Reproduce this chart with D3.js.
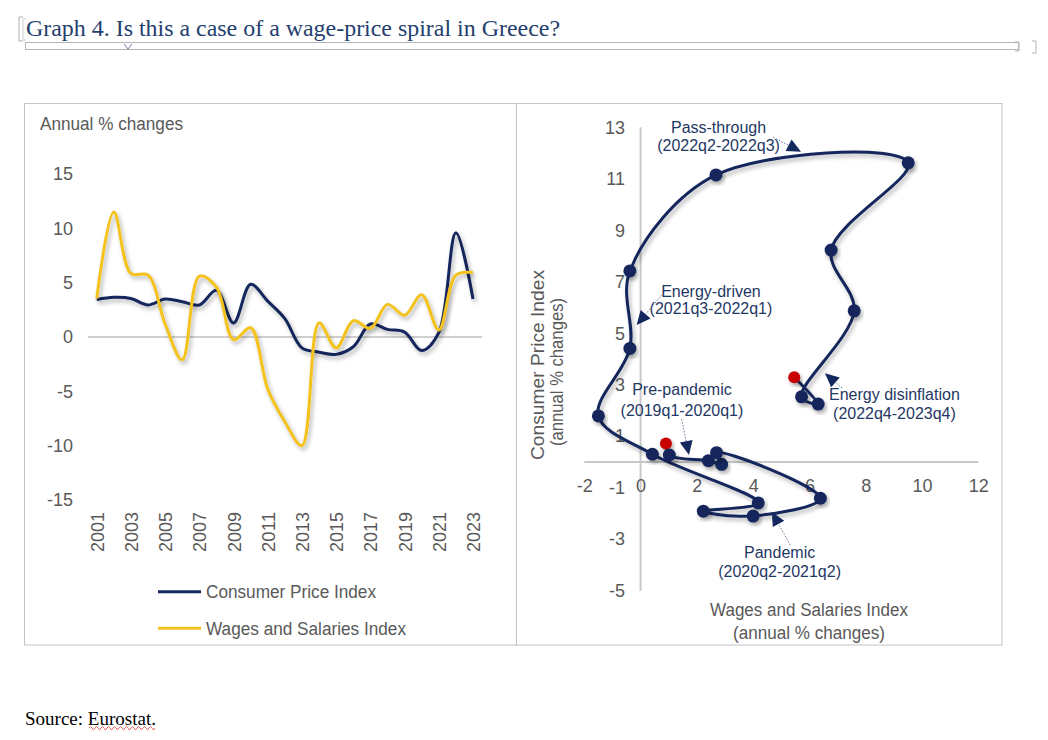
<!DOCTYPE html>
<html>
<head>
<meta charset="utf-8">
<script src="https://cdn.jsdelivr.net/npm/d3@7"></script>
<style>
  html, body { margin: 0; padding: 0; background: #ffffff; }
  svg { display: block; font-family: "Liberation Sans", Arial, sans-serif; }
</style>
</head>
<body>
<script>
// ---------------- DATA ----------------
const years = [2001, 2002, 2003, 2004, 2005, 2006, 2007, 2008, 2009, 2010, 2011, 2012,
               2013, 2014, 2015, 2016, 2017, 2018, 2019, 2020, 2021, 2022, 2023];
const cpiAnnual = [3.45, 3.65, 3.55, 2.95, 3.5, 3.25, 2.95, 4.3, 1.3, 4.85, 3.3, 1.7,
                   -1.0, -1.4, -1.6, -0.9, 1.2, 0.7, 0.45, -1.25, 0.4, 9.6, 3.5];
const wagesAnnual = [3.55, 11.5, 5.85, 5.7, 1.2, -2.1, 5.6, 4.6, -0.25, 0.85, -4.8, -7.8,
                     -10.0, 1.3, -1.0, 1.5, 0.8, 3.0, 2.0, 3.9, 0.65, 5.7, 5.95];
const yearTicks = [2001, 2003, 2005, 2007, 2009, 2011, 2013, 2015, 2017, 2019, 2021, 2023];
const leftYTicks = [-15, -10, -5, 0, 5, 10, 15];

const quarters = ["2019q1","2019q2","2019q3","2019q4","2020q1","2020q2","2020q3","2020q4",
                  "2021q1","2021q2","2021q3","2021q4","2022q1","2022q2","2022q3","2022q4",
                  "2023q1","2023q2","2023q3","2023q4"];
const wagesQ = [0.90, 1.02, 2.41, 2.88, 2.70, 6.39, 4.00, 2.23, 4.18, 0.42,
                -1.50, -0.38, -0.38, 2.68, 9.51, 6.77, 7.59, 5.72, 6.31, 5.46];
const cpiQ   = [0.72, 0.27, 0.05, -0.09, 0.36, -1.41, -2.10, -1.91, -1.59, 0.30,
                1.79, 4.41, 7.42, 11.15, 11.62, 8.23, 5.87, 2.53, 2.25, 3.29];
const rightXTicks = [-2, 0, 2, 4, 6, 8, 10, 12];
const rightYTicks = [13, 11, 9, 7, 5, 3, 1, -1, -3, -5];

const seriesNames = ["Consumer Price Index", "Wages and Salaries Index"];

// annotation labels (in data units of the right chart)
const annotations = [
  { lines: ["Pass-through", "(2022q2-2022q3)"], x: 2.77, y: [12.78, 12.08], from: [4.72, 12.61], to: [5.70, 12.05] },
  { lines: ["Energy-driven", "(2021q3-2022q1)"], x: 2.50, y: [6.41, 5.75], from: [0.75, 6.48], to: [-0.14, 5.32] },
  { lines: ["Pre-pandemic", "(2019q1-2020q1)"], x: 1.47, y: [2.60, 1.78], from: [1.46, 1.66], to: [1.72, 0.27] },
  { lines: ["Energy disinflation", "(2022q4-2023q4)"], x: 9.02, y: [2.41, 1.67], from: [7.16, 2.87], to: [6.55, 3.45] },
  { lines: ["Pandemic", "(2020q2-2021q2)"], x: 4.94, y: [-3.73, -4.47], from: [5.32, -3.23], to: [4.66, -1.93] }
];

// ---------------- STYLE ----------------
const NAVY = "#13285c";
const YELLOW = "#f4c21f";
const GREY_TXT = "#595959";
const AXIS_GREY = "#c8c8c8";
const RED = "#c80000";
const ANN = "#1f3864";
const SANS = "'Liberation Sans', Arial, sans-serif";
const SERIF = "'Liberation Serif', 'Times New Roman', serif";
const plain = d => String(d);

const svg = d3.select("body").append("svg").attr("width", 1048).attr("height", 740);
const defs = svg.append("defs");
const f = defs.append("filter").attr("id", "shadow")
  .attr("x", "-10%").attr("y", "-10%").attr("width", "130%").attr("height", "140%");
f.append("feDropShadow").attr("dx", 2).attr("dy", 3).attr("stdDeviation", 2)
  .attr("flood-color", "#000").attr("flood-opacity", 0.3);

// ---------------- TITLE & PAGE ARTIFACTS ----------------
const page = svg.append("g");
page.append("path").attr("d", "M23,17 H19 V41 H23").attr("fill", "none").attr("stroke", "#b0b0b0").attr("stroke-width", 1);
page.append("path").attr("d", "M26,19 H23 V40 H26").attr("fill", "none").attr("stroke", "#d0d0d0").attr("stroke-width", 1);
page.append("rect").attr("x", 25.5).attr("y", 42.5).attr("width", 993).attr("height", 7)
  .attr("fill", "none").attr("stroke", "#b4b4b4").attr("stroke-width", 1);
page.append("path").attr("d", "M124,44 L128,49 L132,44").attr("fill", "none").attr("stroke", "#6b7fa6").attr("stroke-width", 1);
page.append("path").attr("d", "M1015,42 H1019 V51 H1015").attr("fill", "none").attr("stroke", "#b4b4b4");
page.append("path").attr("d", "M1032,41 H1036 V53 H1032").attr("fill", "none").attr("stroke", "#b4b4b4");

page.append("text").attr("x", 26).attr("y", 36)
  .style("font-family", SERIF)
  .attr("font-size", 24).attr("fill", "#23406e")
  .attr("textLength", 534).attr("lengthAdjust", "spacingAndGlyphs")
  .text("Graph 4. Is this a case of a wage-price spiral in Greece?");

page.append("text").attr("x", 25).attr("y", 725)
  .style("font-family", SERIF)
  .attr("font-size", 19).attr("fill", "#000")
  .attr("textLength", 131).attr("lengthAdjust", "spacingAndGlyphs")
  .text("Source: Eurostat.");
// spell-check squiggle under "Eurostat"
(function () {
  let d = "M89,728";
  for (let x = 89; x < 155; x += 3) d += ` L${x + 1.5},${(x / 3) % 2 < 1 ? 730 : 726.5} L${x + 3},728`;
  page.append("path").attr("d", d).attr("fill", "none").attr("stroke", "#e04040").attr("stroke-width", 0.8);
})();

// panel frames
svg.append("rect").attr("x", 24.5).attr("y", 103.5).attr("width", 492).attr("height", 541.5)
  .attr("fill", "none").attr("stroke", "#c4c4c4").attr("stroke-width", 1);
svg.append("rect").attr("x", 516.5).attr("y", 103.5).attr("width", 485.5).attr("height", 541.5)
  .attr("fill", "none").attr("stroke", "#c4c4c4").attr("stroke-width", 1);

// ---------------- LEFT CHART ----------------
const xL = d3.scaleLinear().domain([2001, 2023]).range([96.7, 473]);
const yL = d3.scaleLinear().domain([-15, 15]).range([499.9, 174.1]);
const L = svg.append("g");

L.append("text").attr("x", 40).attr("y", 130).attr("font-size", 18).attr("fill", GREY_TXT)
  .attr("textLength", 143).attr("lengthAdjust", "spacingAndGlyphs")
  .text("Annual  % changes");

// zero line
L.append("line").attr("x1", 88).attr("x2", 482).attr("y1", yL(0)).attr("y2", yL(0))
  .attr("stroke", "#d0d0d0").attr("stroke-width", 2);

const yAxisL = L.append("g").attr("transform", "translate(73,0)")
  .call(d3.axisLeft(yL).tickValues(leftYTicks).tickFormat(plain).tickSize(0).tickPadding(0));
yAxisL.select(".domain").remove();
yAxisL.attr("font-family", SANS);
yAxisL.selectAll("text").attr("font-size", 18).attr("fill", GREY_TXT);

const xAxisL = L.append("g").attr("transform", "translate(0,512)")
  .call(d3.axisBottom(xL).tickValues(yearTicks).tickFormat(plain).tickSize(0).tickPadding(0));
xAxisL.select(".domain").remove();
xAxisL.attr("font-family", SANS);
xAxisL.selectAll("text")
  .attr("transform", "rotate(-90)").attr("text-anchor", "end")
  .attr("x", 0).attr("y", 0).attr("dy", "0.36em")
  .attr("font-size", 18).attr("fill", GREY_TXT)
  .attr("textLength", 40).attr("lengthAdjust", "spacingAndGlyphs");

const curve = d3.curveCatmullRom.alpha(0.5);
const lineL = d3.line().x(d => xL(d[0])).y(d => yL(d[1])).curve(curve);
const cpiPts = years.map((y, i) => [y, cpiAnnual[i]]);
const wagePts = years.map((y, i) => [y, wagesAnnual[i]]);

L.append("path").attr("d", lineL(cpiPts)).attr("fill", "none").attr("stroke", NAVY)
  .attr("stroke-width", 3).attr("filter", "url(#shadow)").attr("stroke-linejoin", "round");
L.append("path").attr("d", lineL(wagePts)).attr("fill", "none").attr("stroke", YELLOW)
  .attr("stroke-width", 3).attr("filter", "url(#shadow)").attr("stroke-linejoin", "round");

// legend
const legend = L.append("g");
[NAVY, YELLOW].forEach((c, i) => {
  const yy = 591.7 + i * 36.6;
  legend.append("line").attr("x1", 158).attr("x2", 201).attr("y1", yy).attr("y2", yy)
    .attr("stroke", c).attr("stroke-width", 3);
  legend.append("text").attr("x", 206).attr("y", yy + 6.5).attr("font-size", 18).attr("fill", GREY_TXT)
    .attr("textLength", i === 0 ? 170 : 200).attr("lengthAdjust", "spacingAndGlyphs")
    .text(seriesNames[i]);
});

// ---------------- RIGHT CHART ----------------
const xR = d3.scaleLinear().domain([-2, 12]).range([584.3, 978.3]);
const yR = d3.scaleLinear().domain([-5, 13]).range([590.7, 127.3]);
const R = svg.append("g");

// axis lines
R.append("line").attr("x1", xR(-2)).attr("x2", xR(12)).attr("y1", yR(0)).attr("y2", yR(0))
  .attr("stroke", AXIS_GREY).attr("stroke-width", 2);
R.append("line").attr("x1", xR(0)).attr("x2", xR(0)).attr("y1", yR(13)).attr("y2", yR(-5))
  .attr("stroke", AXIS_GREY).attr("stroke-width", 2);

const xAxisR = R.append("g").attr("transform", `translate(0,${yR(0) + 17})`)
  .call(d3.axisBottom(xR).tickValues(rightXTicks).tickFormat(plain).tickSize(0).tickPadding(0));
xAxisR.select(".domain").remove();
xAxisR.attr("font-family", SANS);
xAxisR.selectAll("text").attr("font-size", 18).attr("fill", GREY_TXT);

const yAxisR = R.append("g").attr("transform", "translate(625,0)")
  .call(d3.axisLeft(yR).tickValues(rightYTicks).tickFormat(plain).tickSize(0).tickPadding(0));
yAxisR.select(".domain").remove();
yAxisR.attr("font-family", SANS);
yAxisR.selectAll("text").attr("font-size", 18).attr("fill", GREY_TXT);

// axis titles
R.append("text").attr("transform", "translate(544,365) rotate(-90)").attr("text-anchor", "middle")
  .attr("font-size", 18).attr("fill", GREY_TXT).attr("textLength", 190).attr("lengthAdjust", "spacingAndGlyphs")
  .text("Consumer Price Index");
R.append("text").attr("transform", "translate(563,372) rotate(-90)").attr("text-anchor", "middle")
  .attr("font-size", 18).attr("fill", GREY_TXT).attr("textLength", 148).attr("lengthAdjust", "spacingAndGlyphs")
  .text("(annual % changes)");
R.append("text").attr("x", 809).attr("y", 616).attr("text-anchor", "middle")
  .attr("font-size", 18).attr("fill", GREY_TXT).attr("textLength", 198).attr("lengthAdjust", "spacingAndGlyphs")
  .text("Wages and Salaries Index");
R.append("text").attr("x", 809).attr("y", 639).attr("text-anchor", "middle")
  .attr("font-size", 18).attr("fill", GREY_TXT).attr("textLength", 152).attr("lengthAdjust", "spacingAndGlyphs")
  .text("(annual % changes)");

// spiral path
const qPts = quarters.map((q, i) => ({ q, w: wagesQ[i], c: cpiQ[i] }));
const lineR = d3.line().x(d => xR(d.w)).y(d => yR(d.c)).curve(curve);
R.append("path").attr("d", lineR(qPts)).attr("fill", "none").attr("stroke", NAVY)
  .attr("stroke-width", 3).attr("filter", "url(#shadow)").attr("stroke-linejoin", "round");

R.selectAll("circle.q").data(qPts).join("circle").attr("class", "q")
  .attr("cx", d => xR(d.w)).attr("cy", d => yR(d.c))
  .attr("r", (d, i) => (i === 0 || i === qPts.length - 1) ? 6 : 6.5)
  .attr("fill", (d, i) => (i === 0 || i === qPts.length - 1) ? RED : NAVY)
  .attr("filter", "url(#shadow)");

// annotations
const A = R.append("g");
annotations.forEach(a => {
  a.lines.forEach((t, k) => {
    A.append("text").attr("x", xR(a.x)).attr("y", yR(a.y[k])).attr("text-anchor", "middle")
      .attr("font-size", 16).attr("fill", ANN).text(t);
  });
  const x1 = xR(a.from[0]), y1 = yR(a.from[1]), x2 = xR(a.to[0]), y2 = yR(a.to[1]);
  const dx = x2 - x1, dy = y2 - y1, len = Math.hypot(dx, dy);
  const ux = dx / len, uy = dy / len;
  const hl = 14, hw = 6.5;
  const bx = x2 - ux * hl, by = y2 - uy * hl;
  A.append("line").attr("x1", x1).attr("y1", y1).attr("x2", bx).attr("y2", by)
    .attr("stroke", "#6a7898").attr("stroke-width", 1).attr("stroke-dasharray", "1.5,1.5");
  A.append("path")
    .attr("d", `M${x2},${y2} L${bx - uy * hw},${by + ux * hw} L${bx + uy * hw},${by - ux * hw} Z`)
    .attr("fill", NAVY);
});
</script>
</body>
</html>
